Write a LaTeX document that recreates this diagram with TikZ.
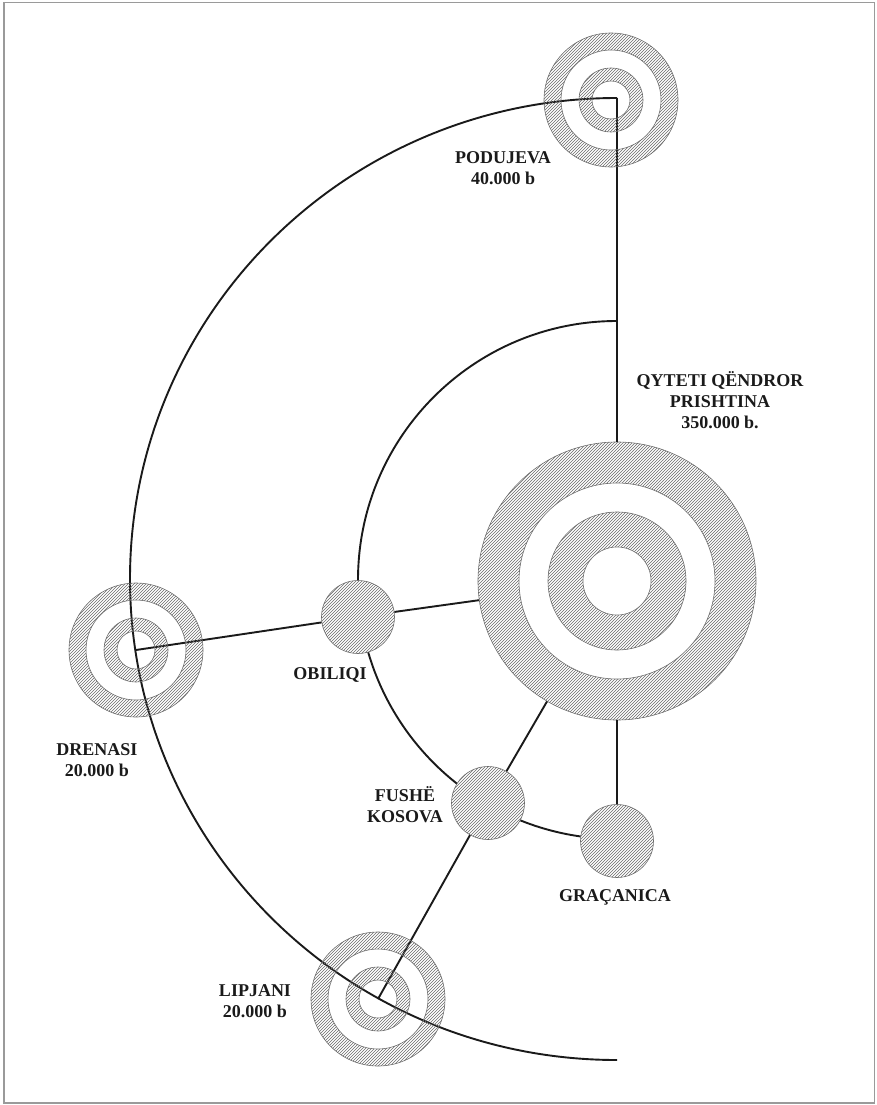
\documentclass[tikz,border=0pt]{standalone}
\usepackage{fontspec}
\setmainfont{Liberation Serif}
\usetikzlibrary{patterns}
\definecolor{ink}{HTML}{1A1A1A}
\definecolor{rimgray}{HTML}{6E6E6E}
\definecolor{framegray}{HTML}{9A9A9A}

\begin{document}
\begin{tikzpicture}[x=1pt,y=-1pt,
  link/.style={ink,line width=1.9pt},
  hatch/.style={pattern=north east lines,pattern color=ink!65},
  ringline/.style={draw=rimgray,line width=.6pt},
  town/.style={circle,ringline,fill=white,minimum size=73pt,inner sep=0pt,postaction={hatch}},
  lbl/.style={font=\bfseries\fontsize{18}{21}\selectfont,text=ink,align=center,inner sep=0pt}]
  \useasboundingbox (0,0) rectangle (877,1105);
  \draw[framegray,line width=1.2pt] (4,2.5) rectangle (874.5,1103);
  % central city
  \node[circle,ringline,fill=white,minimum size=278pt,inner sep=0pt,postaction={hatch}] (prish) at (617,581) {};
  \filldraw[ringline,fill=white] (prish) circle (98pt);
  \filldraw[ringline,fill=white,postaction={hatch}] (prish) circle (69pt);
  \filldraw[ringline,fill=white] (prish) circle (34pt);
  % ring roads
  \coordinate (podtop) at (617,98);
  \coordinate (inntop) at (617,321);
  \draw[link] (podtop) arc[start angle=90,end angle=270,x radius=487pt,y radius=481pt];
  \draw[link] (inntop) arc[start angle=90,end angle=270,radius=259pt];
  % small towns
  \node[town] (obil) at (358,617) {};
  \node[town] (fush) at (488,803) {};
  \node[town] (grac) at (617,841) {};
  \coordinate (pod) at (611,100);
  \coordinate (dren) at (136,650);
  \coordinate (lip) at (378,999);
  \draw[link] (podtop) -- (prish);
  \draw[link] (prish) -- (grac);
  \draw[link] (dren) -- (obil);
  \draw[link] (obil) -- (prish);
  \draw[link] (fush) -- (prish);
  \draw[link] (lip) -- (fush);
  % towns on the outer ring
  \foreach \c in {pod,dren,lip}{
    \fill[hatch,even odd rule] (\c) circle (67pt) circle (50pt) (\c) circle (32pt) circle (19pt);
    \foreach \r in {67,50,32,19} \draw[ringline] (\c) circle (\r pt);
  }
  % labels
  \node[lbl] (podlbl) at (503,168) {PODUJEVA\\40.000 b};
  \node[lbl] (prlbl) at (720,400) {QYTETI QËNDROR\\PRISHTINA\\350.000 b.};
  \node[lbl] (oblbl) at (330,675) {OBILIQI};
  \node[lbl] (fklbl) at (405,805) {FUSHË\\KOSOVA};
  \node[lbl] (grlbl) at (615,897) {GRAÇANICA};
  \node[lbl] (drlbl) at (97,760) {DRENASI\\20.000 b};
  \node[lbl] (lilbl) at (255,1001) {LIPJANI\\20.000 b};
\end{tikzpicture}
\end{document}
